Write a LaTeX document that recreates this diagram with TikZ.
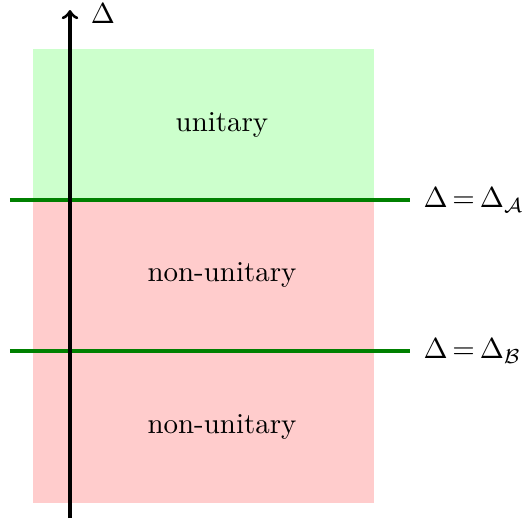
\documentclass[tikz,border=0pt]{standalone}
\usepackage{amsmath}
\begin{document}
\begin{tikzpicture}[x=0.3457pt,y=-0.3457pt,
  lvl/.style={draw=green!50!black,line width=1.1pt},
  lbl/.style={anchor=west,inner sep=0pt}]
\useasboundingbox (0,0) rectangle (523,523);
\fill[green!20] (33,49) rectangle (374,200);
\fill[red!20] (33,200) rectangle (374,503);
\node (u) at (222,125) {unitary};
\node (n1) at (222,275) {non-unitary};
\node (n2) at (222,427) {non-unitary};
\coordinate (a0) at (10,200);
\coordinate (a1) at (410,200);
\coordinate (b0) at (10,351);
\coordinate (b1) at (410,351);
\draw[lvl] (a0) -- (a1);
\draw[lvl] (b0) -- (b1);
\node[lbl] (la) at (423,200) {$\Delta\mkern3mu{=}\mkern3mu\Delta_{\mathcal{A}}$};
\node[lbl] (lb) at (423,351) {$\Delta\mkern3mu{=}\mkern3mu\Delta_{\mathcal{B}}$};
\coordinate (ax0) at (70,518);
\coordinate (ax1) at (70,10);
\draw[->,line width=1.1pt] (ax0) -- (ax1);
\node (d) at (103,14) {$\Delta$};
\end{tikzpicture}
\end{document}
